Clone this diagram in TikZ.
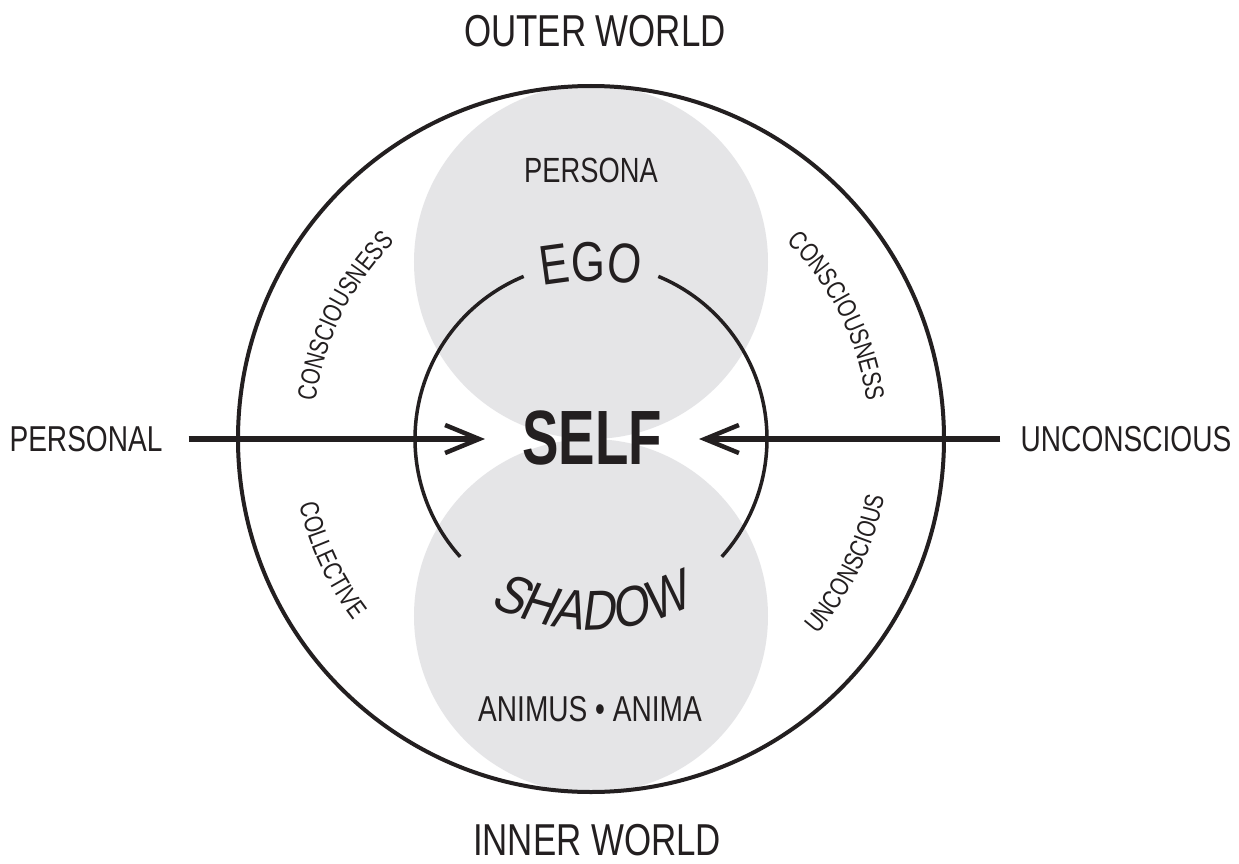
\documentclass[tikz,border=0pt]{standalone}
\usepackage{fontspec}
\setmainfont{Liberation Sans}[FakeStretch=0.78]
\newfontfamily\selffont{Liberation Sans}[FakeStretch=0.71]
\newfontfamily\shadowfont{Liberation Sans}[FakeStretch=0.84,FakeSlant=0.17]
\usetikzlibrary{arrows.meta,decorations.text}
\definecolor{ink}{RGB}{35,31,32}
\definecolor{fog}{RGB}{229,229,231}
\tikzset{
  lbl/.style={text=ink, inner sep=0pt},
  big/.style={lbl, font=\fontsize{44.7}{50}\selectfont},
  side/.style={lbl, font=\fontsize{36}{40}\selectfont},
  mid/.style={lbl, font=\fontsize{35}{40}\selectfont},
  ring/.style={draw=ink, line width=4pt},
  innerarc/.style={draw=ink, line width=3.5pt},
  arrowline/.style={draw=ink, line width=6pt, -{Straight Barb[length=34pt, width=28pt, line width=4.5pt]}},
  curved/.style={decorate, decoration={text along path, text align=center, text color=ink, text={#1}}}
}
\begin{document}
\begin{tikzpicture}[x=1pt,y=1pt]
\useasboundingbox[fill=white] (-591,-424) rectangle (648,439);
% gray discs
\fill[fog] (0,177) circle[radius=177];
\fill[fog] (0,-177) circle[radius=177];
% outer circle
\draw[ring] (0,0) circle[radius=353];
% inner arcs
\draw[innerarc] (-42:176) arc[start angle=-42, end angle=67.5, radius=176];
\draw[innerarc] (112.5:176) arc[start angle=112.5, end angle=222, radius=176];
% labels
\node[big] (outer) at (4,408) {OUTER WORLD};
\node[big] (inner) at (6,-401) {INNER WORLD};
\node[side] (personal) at (-505,0) {PERSONAL};
\node[side] (unconscious) at (535,0) {UNCONSCIOUS};
\node[mid] (persona) at (0,268.5) {PERSONA};
\node[lbl, font=\fontsize{36}{40}\selectfont] (anima) at (-1,-270) {ANIMUS \textbullet{} ANIMA};
\node[lbl, font=\selffont\bfseries\fontsize{77}{80}\selectfont] (self) at (1,1.5) {SELF};
% arrows
\coordinate (ltip) at (-106,0);
\coordinate (rtip) at (108,0);
\draw[arrowline, shorten <=26pt] (personal.east) -- (ltip);
\draw[arrowline, shorten <=20pt] (unconscious.west) -- (rtip);
% curved texts
\path[curved={|\fontsize{56}{60}\selectfont|EGO}] ([shift={(0,-92)}]115:250) arc[start angle=115, end angle=65, radius=250];
\path[curved={|\shadowfont\fontsize{56}{60}\selectfont|SHADOW}] ([shift={(0,24)}]225:215) arc[start angle=225, end angle=315, radius=215];
\path[curved={|\fontsize{26.5}{30}\selectfont|CONSCIOUSNESS}] (183.5:278) arc[start angle=183.5, end angle=123.5, radius=278];
\path[curved={|\fontsize{26.5}{30}\selectfont|CONSCIOUSNESS}] (56.5:278) arc[start angle=56.5, end angle=-3.5, radius=278];
\path[curved={|\fontsize{26.5}{30}\selectfont|COLLECTIVE}] (175:299) arc[start angle=175, end angle=235, radius=299];
\path[curved={|\fontsize{26.5}{30}\selectfont|UNCONSCIOUS}] (-56:299) arc[start angle=-56, end angle=4, radius=299];
\end{tikzpicture}
\end{document}
